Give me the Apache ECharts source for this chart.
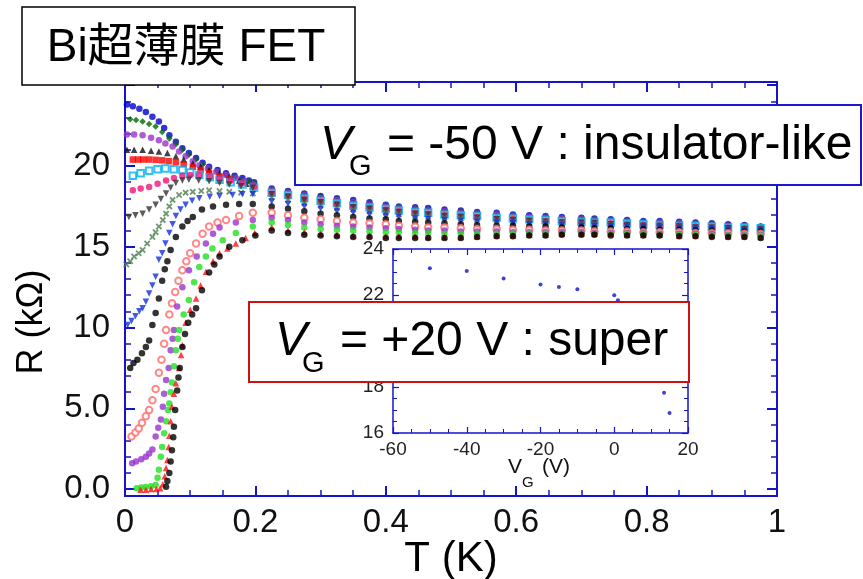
<!DOCTYPE html>
<html><head><meta charset="utf-8">
<script src="https://cdn.jsdelivr.net/npm/echarts@6/dist/echarts.min.js"></script>
<style>html,body{margin:0;padding:0;background:#fff}#c{width:863px;height:579px}</style>
</head><body><div id="c"></div>
<script>
// ---------- DATA ----------
const xTicks = [0, 0.2, 0.4, 0.6, 0.8, 1];
const yMajor = [0, 5, 10, 15, 20, 25];
const yLabels = [0, 5, 10, 15, 20];
const tHigh = [0.225,0.25,0.275,0.3,0.325,0.35,0.375,0.4,0.42,0.445,0.465,0.49,0.515,0.54,0.57,0.595,0.62,0.645,0.67,0.7,0.72,0.745,0.77,0.795,0.82,0.85,0.875,0.9,0.925,0.95,0.975];

const s1Low = [[0.003,23.8],[0.012,23.7],[0.022,23.55],[0.032,23.35],[0.042,23.05],[0.052,22.75],[0.06,22.35],[0.068,21.9],[0.078,21.5],[0.088,21.1],[0.098,20.8],[0.109,20.5],[0.119,20.2],[0.129,19.95],[0.142,19.75],[0.155,19.55],[0.168,19.4],[0.18,19.25],[0.19,19.1],[0.198,19.0]];
const s2Low = [[0.008,22.9],[0.017,22.85],[0.027,22.75],[0.037,22.6],[0.047,22.45],[0.057,22.1],[0.068,21.7],[0.078,21.35],[0.088,21.0],[0.098,20.7],[0.109,20.4],[0.119,20.1],[0.129,19.85],[0.142,19.65],[0.155,19.45],[0.168,19.3],[0.18,19.15],[0.19,19.05],[0.198,18.95]];
const s3Low = [[0.003,21.95],[0.014,21.95],[0.027,21.9],[0.04,21.75],[0.052,21.6],[0.062,21.4],[0.073,21.2],[0.083,20.9],[0.093,20.6],[0.104,20.3],[0.114,20.05],[0.127,19.85],[0.14,19.65],[0.155,19.45],[0.17,19.25],[0.183,19.05],[0.196,18.85]];
const s4Low = [[0.003,21.0],[0.014,21.0],[0.027,21.0],[0.04,20.95],[0.052,20.9],[0.065,20.8],[0.078,20.6],[0.09,20.4],[0.104,20.15],[0.116,19.95],[0.129,19.75],[0.145,19.55],[0.16,19.35],[0.175,19.1],[0.186,18.9],[0.196,18.75]];
const s5Low = [[0.012,20.4],[0.02,20.4],[0.028,20.4],[0.037,20.4],[0.047,20.38],[0.057,20.35],[0.067,20.3],[0.078,20.25],[0.09,20.1],[0.104,19.95],[0.116,19.75],[0.129,19.55],[0.145,19.35],[0.16,19.15],[0.178,18.9],[0.196,18.7]];
const s6Low = [[0.012,19.4],[0.024,19.55],[0.037,19.7],[0.05,19.8],[0.062,19.85],[0.075,19.8],[0.088,19.75],[0.1,19.6],[0.114,19.45],[0.13,19.3],[0.145,19.15],[0.162,19.0],[0.18,18.85],[0.198,18.65]];
const s7Low = [[0.012,18.5],[0.024,18.6],[0.037,18.7],[0.05,18.9],[0.063,19.1],[0.075,19.25],[0.088,19.4],[0.1,19.45],[0.114,19.45],[0.13,19.35],[0.145,19.25],[0.162,19.1],[0.18,18.95],[0.198,18.7]];
const s8Low = [[0.006,16.85],[0.016,16.95],[0.027,17.05],[0.037,17.3],[0.047,17.6],[0.055,17.95],[0.063,18.3],[0.07,18.65],[0.078,18.95],[0.088,19.1],[0.098,19.15],[0.113,19.1],[0.129,19.05],[0.145,18.95],[0.16,18.85],[0.178,18.75],[0.196,18.65]];
const s9Low = [[0.002,13.9],[0.008,14.1],[0.014,14.4],[0.021,14.6],[0.027,14.8],[0.034,15.2],[0.042,15.6],[0.047,15.9],[0.052,16.25],[0.058,16.65],[0.063,17.05],[0.068,17.5],[0.073,17.9],[0.083,18.2],[0.093,18.35],[0.104,18.4],[0.117,18.45],[0.129,18.5],[0.145,18.45],[0.16,18.4],[0.178,18.35],[0.196,18.3]];
const s10Low = [[0.004,10.15],[0.01,10.4],[0.016,10.7],[0.022,11.0],[0.027,11.2],[0.032,11.6],[0.037,12.1],[0.042,12.6],[0.047,13.15],[0.052,14.2],[0.057,14.6],[0.062,15.2],[0.068,15.85],[0.073,16.4],[0.078,16.9],[0.085,17.3],[0.093,17.6],[0.103,17.85],[0.114,18.0],[0.13,18.1],[0.145,18.15],[0.165,18.2],[0.18,18.25],[0.196,18.25]];
const s11Low = [[0.008,7.5],[0.013,7.8],[0.019,8.0],[0.026,8.4],[0.032,8.8],[0.037,9.2],[0.042,10.15],[0.047,10.9],[0.052,11.8],[0.057,12.9],[0.061,13.6],[0.065,14.1],[0.07,14.8],[0.078,15.6],[0.088,16.25],[0.096,16.6],[0.104,16.85],[0.118,17.3],[0.135,17.5],[0.155,17.6],[0.175,17.65],[0.196,17.65]];
const s12Low = [[0.01,3.25],[0.016,3.5],[0.021,3.75],[0.026,4.1],[0.032,4.5],[0.037,4.9],[0.042,5.5],[0.047,6.2],[0.052,7.2],[0.056,8.0],[0.06,9.0],[0.063,9.85],[0.068,10.8],[0.072,11.5],[0.077,12.2],[0.082,12.9],[0.088,13.55],[0.094,14.1],[0.1,14.6],[0.109,15.2],[0.119,15.8],[0.129,16.25],[0.142,16.5],[0.155,16.65],[0.175,16.9],[0.196,17.1]];
const s13Low = [[0.011,1.6],[0.017,1.7],[0.025,1.85],[0.032,2.0],[0.037,2.2],[0.042,2.45],[0.047,3.25],[0.051,3.8],[0.055,4.3],[0.058,5.1],[0.06,5.9],[0.063,6.75],[0.067,7.5],[0.07,8.6],[0.073,9.3],[0.075,9.85],[0.08,11.3],[0.088,12.5],[0.098,13.55],[0.11,14.4],[0.124,15.2],[0.135,15.8],[0.145,16.2],[0.17,16.5],[0.196,16.65]];
const s14Low = [[0.018,0.05],[0.025,0.1],[0.032,0.12],[0.04,0.18],[0.047,0.25],[0.05,0.7],[0.052,1.2],[0.055,2.0],[0.057,2.6],[0.06,3.45],[0.063,4.2],[0.066,4.9],[0.068,5.3],[0.07,6.0],[0.072,6.6],[0.075,7.6],[0.078,8.6],[0.081,9.3],[0.083,9.85],[0.09,10.8],[0.098,11.7],[0.106,12.8],[0.114,13.75],[0.124,14.4],[0.134,14.9],[0.15,15.4],[0.17,15.85],[0.196,16.25]];
const s15Low = [[0.024,-0.05],[0.032,-0.05],[0.04,0.0],[0.048,0.0],[0.054,0.05],[0.058,0.3],[0.061,0.8],[0.063,1.3],[0.065,1.8],[0.067,2.6],[0.068,3.3],[0.07,4.2],[0.072,5.1],[0.075,5.9],[0.078,6.55],[0.083,7.5],[0.086,8.3],[0.088,8.9],[0.093,10.3],[0.1,11.1],[0.109,11.8],[0.116,12.6],[0.124,13.45],[0.135,14.1],[0.145,14.6],[0.157,14.9],[0.17,15.2],[0.185,15.55],[0.199,15.85]];
const s16Low = [[0.063,0.15],[0.065,0.5],[0.068,1.0],[0.07,1.7],[0.072,2.4],[0.074,3.2],[0.075,3.85],[0.077,4.9],[0.08,6.1],[0.082,6.9],[0.084,7.5],[0.088,8.8],[0.092,9.6],[0.097,10.3],[0.103,10.8],[0.109,11.2],[0.118,12.3],[0.129,13.4],[0.137,13.9],[0.145,14.4],[0.16,15.0],[0.18,15.4],[0.2,15.7]];

const s1High = [18.6,18.45,18.3,18.15,18.0,17.9,17.75,17.6,17.5,17.45,17.4,17.3,17.25,17.15,17.1,17.0,16.95,16.9,16.85,16.8,16.75,16.7,16.65,16.6,16.6,16.55,16.5,16.45,16.4,16.35,16.25];
const s2High = [18.55,18.4,18.25,18.1,17.95,17.8,17.7,17.55,17.45,17.4,17.3,17.25,17.2,17.1,17.05,16.95,16.9,16.85,16.8,16.75,16.7,16.65,16.6,16.55,16.55,16.5,16.45,16.4,16.35,16.3,16.25];
const s3High = [18.5,18.35,18.2,18.0,17.9,17.75,17.6,17.5,17.4,17.3,17.25,17.2,17.1,17.05,17.0,16.9,16.85,16.8,16.75,16.7,16.65,16.6,16.55,16.5,16.5,16.45,16.4,16.35,16.3,16.25,16.2];
const s4High = [18.45,18.3,18.1,17.95,17.8,17.7,17.55,17.45,17.35,17.25,17.2,17.1,17.05,17.0,16.9,16.85,16.8,16.75,16.7,16.65,16.6,16.55,16.5,16.45,16.45,16.4,16.35,16.3,16.3,16.2,16.2];
const s5High = [18.4,18.2,18.05,17.9,17.75,17.6,17.5,17.4,17.3,17.2,17.15,17.05,17.0,16.95,16.85,16.8,16.75,16.7,16.65,16.6,16.55,16.5,16.45,16.4,16.4,16.35,16.3,16.3,16.25,16.2,16.15];
const s6High = [18.35,18.2,18.0,17.85,17.7,17.55,17.45,17.35,17.25,17.15,17.1,17.0,16.95,16.9,16.8,16.75,16.7,16.65,16.6,16.55,16.5,16.5,16.45,16.4,16.35,16.3,16.3,16.25,16.2,16.2,16.15];
const s7High = [18.3,18.15,17.95,17.8,17.65,17.5,17.4,17.3,17.2,17.1,17.05,16.95,16.9,16.85,16.75,16.7,16.65,16.6,16.55,16.5,16.5,16.45,16.4,16.35,16.3,16.3,16.25,16.2,16.2,16.15,16.1];
const s8High = [18.25,18.1,17.9,17.75,17.6,17.45,17.35,17.25,17.15,17.05,17.0,16.9,16.85,16.8,16.7,16.65,16.6,16.55,16.5,16.5,16.45,16.4,16.35,16.3,16.3,16.25,16.2,16.2,16.15,16.1,16.1];
const s9High = [18.05,17.9,17.7,17.55,17.4,17.3,17.2,17.1,17.0,16.9,16.85,16.8,16.75,16.7,16.6,16.55,16.5,16.5,16.45,16.4,16.4,16.35,16.3,16.25,16.25,16.2,16.15,16.15,16.1,16.05,16.05];
const s10High = [17.8,17.65,17.5,17.35,17.2,17.1,17.0,16.9,16.85,16.75,16.7,16.65,16.6,16.55,16.5,16.45,16.4,16.4,16.35,16.3,16.3,16.25,16.25,16.2,16.2,16.15,16.1,16.1,16.05,16.0,16.0];
const s11High = [17.5,17.35,17.2,17.05,16.95,16.85,16.75,16.7,16.6,16.55,16.5,16.45,16.4,16.35,16.3,16.3,16.25,16.25,16.2,16.2,16.15,16.15,16.1,16.1,16.05,16.05,16.0,16.0,15.95,15.95,15.95];
const s12High = [17.1,16.95,16.8,16.7,16.6,16.5,16.45,16.4,16.3,16.25,16.2,16.2,16.15,16.1,16.1,16.05,16.05,16.0,16.0,16.0,15.95,15.95,15.95,15.9,15.9,15.9,15.85,15.85,15.85,15.8,15.8];
const s13High = [16.8,16.65,16.5,16.4,16.3,16.25,16.2,16.15,16.1,16.05,16.0,16.0,15.95,15.95,15.95,15.9,15.9,15.9,15.9,15.9,15.85,15.85,15.85,15.85,15.8,15.8,15.8,15.8,15.75,15.75,15.75];
const s14High = [16.5,16.35,16.2,16.1,16.05,16.0,15.95,15.9,15.9,15.85,15.85,15.8,15.8,15.8,15.8,15.8,15.8,15.8,15.8,15.8,15.8,15.8,15.8,15.8,15.75,15.75,15.75,15.7,15.7,15.7,15.7];
const s15High = [16.2,16.0,15.9,15.8,15.75,15.7,15.7,15.65,15.65,15.65,15.6,15.6,15.6,15.65,15.7,15.7,15.75,15.75,15.8,15.8,15.8,15.8,15.75,15.75,15.75,15.7,15.7,15.7,15.65,15.65,15.6];
const s16High = [16.0,15.85,15.75,15.7,15.65,15.6,15.6,15.55,15.55,15.55,15.55,15.55,15.55,15.6,15.65,15.65,15.7,15.7,15.75,15.75,15.75,15.7,15.7,15.7,15.7,15.65,15.65,15.6,15.6,15.6,15.55];

// inset: R at lowest T vs gate voltage
const insetVg = [-50, -40, -30, -20, -15, -10, 0, 1, 13.5, 15];
const insetR = [23.16, 23.04, 22.72, 22.46, 22.35, 22.25, 21.99, 21.77, 17.75, 16.87];

// ---------- STYLE ----------
const AX = '#1414cc';
const FONT = '"Liberation Sans", Arial, "Noto Sans CJK JP", sans-serif';
const XMARK = 'path://M0 2L2 0L5 3L8 0L10 2L7 5L10 8L8 10L5 7L2 10L0 8L3 5Z';
const defs = [
  [s1Low, s1High, '#0000cc', 'circle', 0],
  [s2Low, s2High, '#006a00', 'diamond', 0],
  [s3Low, s3High, '#9933cc', 'circle', 0],
  [s4Low, s4High, '#111111', 'triangle', 0],
  [s5Low, s5High, '#ff0000', 'rect', 0],
  [s6Low, s6High, '#00b0f0', 'emptyRect', 0],
  [s7Low, s7High, '#f0147a', 'circle', 0],
  [s8Low, s8High, '#333333', 'triangle', 180],
  [s9Low, s9High, '#4d7d4d', XMARK, 0],
  [s10Low, s10High, '#1030e0', 'triangle', 180],
  [s11Low, s11High, '#000000', 'circle', 0],
  [s12Low, s12High, '#ff6a6a', 'emptyCircle', 0],
  [s13Low, s13High, '#9933cc', 'circle', 0],
  [s14Low, s14High, '#22e022', 'circle', 0],
  [s15Low, s15High, '#ff1010', 'triangle', 0],
  [s16Low, s16High, '#000000', 'circle', 0]
];

const series = defs.map((d, k) => ({
  type: 'scatter', xAxisIndex: 0, yAxisIndex: 0,
  symbol: d[3], symbolRotate: d[4], symbolSize: 6.5,
  itemStyle: { color: d[2], borderColor: d[2], borderWidth: d[3].startsWith('empty') ? 1.3 : 0 },
  data: d[0].concat(tHigh.map((t, i) => [t, d[1][i]])),
  z: 2 + k
}));
series.push({
  type: 'scatter', xAxisIndex: 2, yAxisIndex: 4, symbol: 'circle', symbolSize: 4,
  itemStyle: { color: '#1010d0' },
  data: insetVg.map((v, i) => [v, insetR[i]])
});

const yMin = -0.43, yMax = 25.2;
const intVals = []; for (let v = 0; v <= 25; v++) intVals.push(v);

function tick(len, w) { return { show: true, inside: true, length: len, lineStyle: { color: AX, width: w } }; }
const axLine = { show: true, onZero: false, lineStyle: { color: AX, width: 2 } };

const option = {
  animation: false,
  backgroundColor: '#fff',
  grid: [
    { left: 125, right: 86, top: 82, bottom: 83 },
    { left: 393, top: 249, width: 295, height: 184 }
  ],
  xAxis: [
    { gridIndex: 0, type: 'value', position: 'bottom', min: 0, max: 1, interval: 0.2,
      axisLine: axLine, axisTick: tick(10, 2),
      minorTick: { show: true, splitNumber: 4, length: 6, lineStyle: { color: AX, width: 1.5 } },
      axisLabel: { fontSize: 33, fontFamily: FONT, color: '#111', margin: 10,
        formatter: v => (v === 0 ? '0' : v === 1 ? '1' : v.toFixed(1)) },
      splitLine: { show: false } },
    { gridIndex: 0, type: 'value', position: 'top', min: 0, max: 1, interval: 0.2,
      axisLine: axLine, axisTick: tick(10, 2),
      minorTick: { show: true, splitNumber: 4, length: 6, lineStyle: { color: AX, width: 1.5 } },
      axisLabel: { show: false }, splitLine: { show: false } },
    { gridIndex: 1, type: 'value', position: 'bottom', min: -60, max: 20, interval: 20,
      axisLine: { show: true, onZero: false, lineStyle: { color: AX, width: 1.5 } }, axisTick: tick(6, 1.2),
      minorTick: { show: true, splitNumber: 4, length: 4, lineStyle: { color: AX, width: 1 } },
      axisLabel: { fontSize: 19, fontFamily: FONT, color: '#222', margin: 7 }, splitLine: { show: false } },
    { gridIndex: 1, type: 'value', position: 'top', min: -60, max: 20, interval: 20,
      axisLine: { show: true, onZero: false, lineStyle: { color: AX, width: 1.5 } }, axisTick: tick(6, 1.2),
      minorTick: { show: true, splitNumber: 4, length: 4, lineStyle: { color: AX, width: 1 } },
      axisLabel: { show: false }, splitLine: { show: false } }
  ],
  yAxis: [
    { gridIndex: 0, type: 'value', position: 'left', min: yMin, max: yMax,
      axisLine: axLine,
      axisTick: { show: true, inside: true, length: 10, customValues: yMajor, lineStyle: { color: AX, width: 2 } },
      axisLabel: { fontSize: 33, fontFamily: FONT, color: '#111', margin: 15, customValues: yLabels,
        formatter: v => (v < 10 ? v.toFixed(1) : String(v)) },
      splitLine: { show: false } },
    { gridIndex: 0, type: 'value', position: 'left', min: yMin, max: yMax,
      axisLine: axLine,
      axisTick: { show: true, inside: true, length: 6, customValues: intVals, lineStyle: { color: AX, width: 1.5 } },
      axisLabel: { show: false }, splitLine: { show: false } },
    { gridIndex: 0, type: 'value', position: 'right', min: yMin, max: yMax,
      axisLine: axLine,
      axisTick: { show: true, inside: true, length: 10, customValues: yMajor, lineStyle: { color: AX, width: 2 } },
      axisLabel: { show: false }, splitLine: { show: false } },
    { gridIndex: 0, type: 'value', position: 'right', min: yMin, max: yMax,
      axisLine: axLine,
      axisTick: { show: true, inside: true, length: 6, customValues: intVals, lineStyle: { color: AX, width: 1.5 } },
      axisLabel: { show: false }, splitLine: { show: false } },
    { gridIndex: 1, type: 'value', position: 'left', min: 16, max: 24, interval: 2,
      axisLine: { show: true, onZero: false, lineStyle: { color: AX, width: 1.5 } }, axisTick: tick(6, 1.2),
      minorTick: { show: true, splitNumber: 4, length: 4, lineStyle: { color: AX, width: 1 } },
      axisLabel: { fontSize: 19, fontFamily: FONT, color: '#222', margin: 9 }, splitLine: { show: false } },
    { gridIndex: 1, type: 'value', position: 'right', min: 16, max: 24, interval: 2,
      axisLine: { show: true, onZero: false, lineStyle: { color: AX, width: 1.5 } }, axisTick: tick(6, 1.2),
      minorTick: { show: true, splitNumber: 4, length: 4, lineStyle: { color: AX, width: 1 } },
      axisLabel: { show: false }, splitLine: { show: false } }
  ],
  series: series,
  graphic: [
    { type: 'text', x: 32, y: 322, rotation: Math.PI / 2, z: 100,
      style: { text: 'R (kΩ)', fontSize: 36, fontFamily: FONT, fill: '#000', textAlign: 'center', textVerticalAlign: 'middle' } },
    { type: 'text', x: 451, y: 559, z: 100,
      style: { text: 'T (K)', fontSize: 42, fontFamily: FONT, fill: '#000', textAlign: 'center', textVerticalAlign: 'middle' } },
    { type: 'text', x: 508, y: 467, z: 100,
      style: { text: 'V', fontSize: 21, fontFamily: FONT, fill: '#111', textAlign: 'left', textVerticalAlign: 'middle' } },
    { type: 'text', x: 522, y: 483, z: 100,
      style: { text: 'G', fontSize: 15, fontFamily: FONT, fill: '#111', textAlign: 'left', textVerticalAlign: 'middle' } },
    { type: 'text', x: 542, y: 467, z: 100,
      style: { text: '(V)', fontSize: 21, fontFamily: FONT, fill: '#111', textAlign: 'left', textVerticalAlign: 'middle' } },
    // title box
    { type: 'rect', z: 100, shape: { x: 22, y: 7, width: 333, height: 78 },
      style: { fill: '#fff', stroke: '#000', lineWidth: 1.5 } },
    { type: 'text', x: 186, y: 48, z: 101,
      style: { text: 'Bi超薄膜 FET', fontSize: 46, fontFamily: FONT, fill: '#000', textAlign: 'center', textVerticalAlign: 'middle' } },
    // insulator box
    { type: 'rect', z: 100, shape: { x: 295, y: 105, width: 566, height: 80 },
      style: { fill: '#fff', stroke: '#1a1acc', lineWidth: 2 } },
    { type: 'text', x: 320, y: 146, z: 101,
      style: { text: 'V', fontSize: 48, fontStyle: 'italic', fontFamily: FONT, fill: '#000', textAlign: 'left', textVerticalAlign: 'middle' } },
    { type: 'text', x: 349, y: 167, z: 101,
      style: { text: 'G', fontSize: 29, fontFamily: FONT, fill: '#000', textAlign: 'left', textVerticalAlign: 'middle' } },
    { type: 'text', x: 387, y: 146, z: 101,
      style: { text: '= -50 V : insulator-like', fontSize: 48, fontFamily: FONT, fill: '#000', textAlign: 'left', textVerticalAlign: 'middle' } },
    // super box
    { type: 'rect', z: 100, shape: { x: 249, y: 302, width: 440, height: 80 },
      style: { fill: '#fff', stroke: '#cc1111', lineWidth: 2 } },
    { type: 'text', x: 275, y: 342, z: 101,
      style: { text: 'V', fontSize: 48, fontStyle: 'italic', fontFamily: FONT, fill: '#000', textAlign: 'left', textVerticalAlign: 'middle' } },
    { type: 'text', x: 302, y: 364, z: 101,
      style: { text: 'G', fontSize: 29, fontFamily: FONT, fill: '#000', textAlign: 'left', textVerticalAlign: 'middle' } },
    { type: 'text', x: 340, y: 342, z: 101,
      style: { text: '= +20 V : super', fontSize: 48, fontFamily: FONT, fill: '#000', textAlign: 'left', textVerticalAlign: 'middle' } }
  ]
};
echarts.init(document.getElementById('c'), null, { renderer: 'canvas' }).setOption(option);
</script></body></html>
